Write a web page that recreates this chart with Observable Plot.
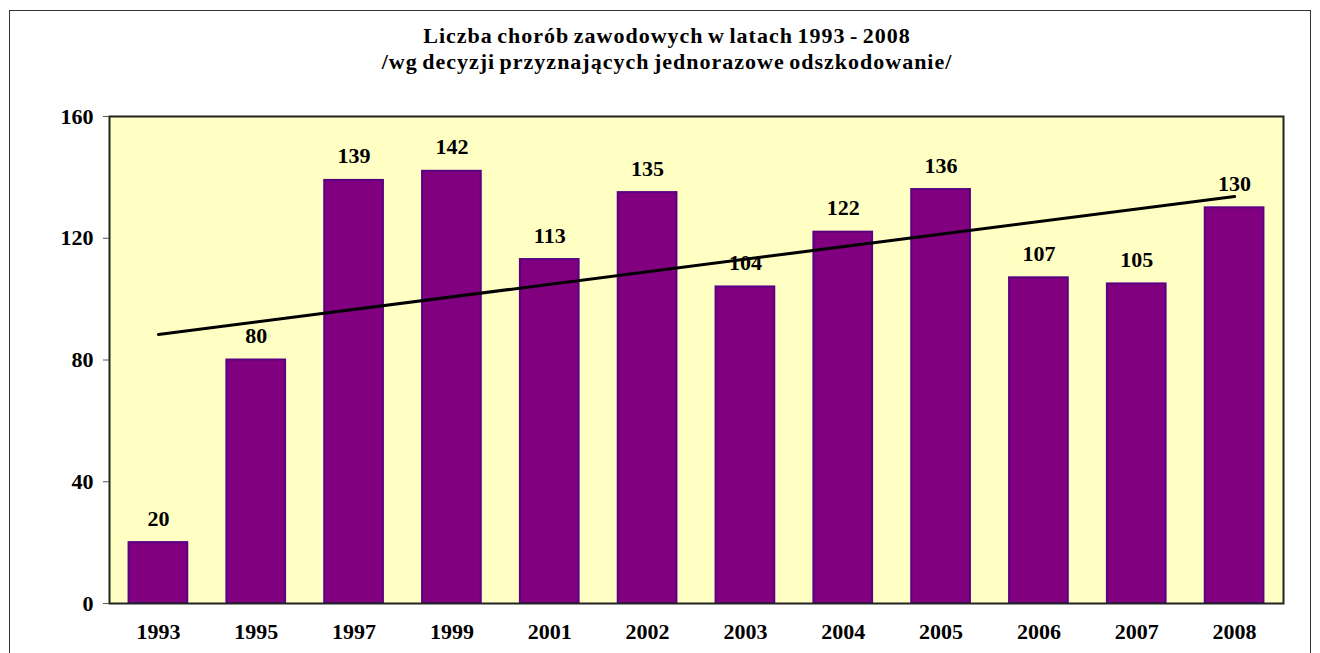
<!DOCTYPE html>
<html>
<head>
<meta charset="utf-8">
<script src="https://cdn.jsdelivr.net/npm/d3@7"></script>
<script src="https://cdn.jsdelivr.net/npm/@observablehq/plot@0.6"></script>
<style>
  html, body { margin: 0; padding: 0; background: #fff; }
  #wrap { position: relative; width: 1320px; height: 653px; overflow: hidden; font-family: "Liberation Serif", "Times New Roman", serif; }
  #border { position: absolute; left: 9px; top: 10px; width: 1302px; height: 700px; border: 1px solid #333; box-sizing: border-box; }
  #title { position: absolute; left: 0; width: 1334px; top: 23px; text-align: center; font-weight: bold; font-size: 22px; line-height: 26px; letter-spacing: 1px; word-spacing: -2px; color: #000; }
  #chart { position: absolute; left: 0; top: 0; }
</style>
</head>
<body>
<div id="wrap">
  <div id="border"></div>
  <div id="chart"></div>
  <div id="title">Liczba chorób zawodowych w latach 1993 - 2008<br>/wg decyzji przyznających jednorazowe odszkodowanie/</div>
</div>
<script>
const years = ["1993","1995","1997","1999","2001","2002","2003","2004","2005","2006","2007","2008"];
const values = [20, 80, 139, 142, 113, 135, 104, 122, 136, 107, 105, 130];
const yTicks = [0, 40, 80, 120, 160];
const trendYears = ["1993", "2008"];
const trendValues = [88.4, 133.7];

const data = years.map((year, i) => ({year, value: values[i]}));
const trend = trendYears.map((year, i) => ({year, value: trendValues[i]}));

const chart = Plot.plot({
  width: 1320,
  height: 653,
  marginLeft: 109,
  marginRight: 37,
  marginTop: 116,
  marginBottom: 50,
  style: {fontFamily: '"Liberation Serif", "Times New Roman", serif', fontSize: "22px", fontWeight: "bold", color: "#000", background: "transparent", overflow: "visible"},
  x: {domain: years, paddingInner: 0.4, paddingOuter: 0.2, round: false, label: null, tickSize: 0, tickPadding: 20},
  y: {domain: [0, 160], ticks: yTicks, label: null, tickSize: 6, tickPadding: 10},
  marks: [
    Plot.frame({fill: "#FFFFC4", stroke: null}),
    Plot.barY(data, {x: "year", y: "value", fill: "#800080", stroke: "#5A0082", strokeWidth: 2}),
    Plot.line(trend, {x: "year", y: "value", stroke: "#000", strokeWidth: 3}),
    Plot.text(data, {x: "year", y: "value", text: d => String(d.value), dy: -24, fill: "#000", fontSize: 22, fontWeight: "bold"}),
    Plot.frame({stroke: "#222", strokeWidth: 2, fill: null}),
    Plot.axisY({ticks: yTicks, tickSize: 6, tickPadding: 10, stroke: "#555", fontSize: 22, fontWeight: "bold"}),
    Plot.axisX({tickSize: 0, tickPadding: 20, fontSize: 22, fontWeight: "bold"})
  ]
});
document.getElementById("chart").appendChild(chart);
</script>
</body>
</html>
